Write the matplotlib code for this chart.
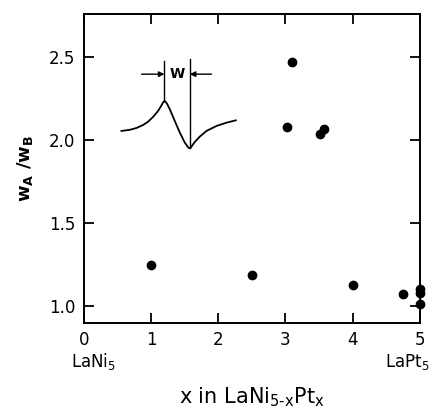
import matplotlib
matplotlib.use("Agg")
import matplotlib.pyplot as plt

plt.rcParams['font.family'] = ['DejaVu Sans']

# measured points
x_pts = [1.0, 2.5, 4.0, 4.75, 5.0, 5.0, 5.0, 3.1, 3.02, 3.52, 3.57]
y_pts = [1.25, 1.19, 1.13, 1.077, 1.107, 1.083, 1.012, 2.474, 2.078, 2.035, 2.065]

# inset sketch of the line shape (data coords)
curve_x = [0.56, 0.685, 0.784, 0.883, 0.957, 1.032, 1.106, 1.156, 1.18, 1.20, 1.22, 1.245, 1.28,
           1.354, 1.429, 1.503, 1.548, 1.568, 1.585, 1.602, 1.652, 1.726, 1.825, 1.974, 2.123, 2.262]
curve_y = [2.056, 2.063, 2.074, 2.092, 2.112, 2.141, 2.177, 2.210, 2.228, 2.236, 2.231, 2.215, 2.187,
           2.116, 2.046, 1.986, 1.960, 1.952, 1.953, 1.962, 1.990, 2.022, 2.056, 2.086, 2.106, 2.120]

fig = plt.figure(figsize=(4.41, 4.17), dpi=100)
ax = fig.add_axes([0.190, 0.2254, 0.762, 0.741])

ax.plot(x_pts, y_pts, 'o', color='black', markersize=6, clip_on=False)
ax.plot(curve_x, curve_y, '-', color='black', linewidth=1.3)

# width marker
ax.plot([1.20, 1.20], [2.236, 2.478], color='black', linewidth=1.0)
ax.plot([1.577, 1.577], [1.952, 2.488], color='black', linewidth=1.0)
ax.annotate('', xy=(1.20, 2.398), xytext=(0.86, 2.398),
            arrowprops=dict(arrowstyle='-|>', color='black', lw=1.0, mutation_scale=8,
                            shrinkA=0, shrinkB=0))
ax.annotate('', xy=(1.577, 2.398), xytext=(1.90, 2.398),
            arrowprops=dict(arrowstyle='-|>', color='black', lw=1.0, mutation_scale=8,
                            shrinkA=0, shrinkB=0))
ax.text(1.39, 2.398, 'W', ha='center', va='center', fontsize=10, fontweight='bold')

ax.set_xlim(0, 5)
ax.set_ylim(0.9, 2.76)
ax.set_xticks([0, 1, 2, 3, 4, 5])
ax.set_yticks([1.0, 1.5, 2.0, 2.5])
ax.set_yticklabels(['1.0', '1.5', '2.0', '2.5'])
ax.tick_params(direction='in', length=7, width=1.3, top=True, right=True,
               labelsize=12, pad=6)
for s in ax.spines.values():
    s.set_linewidth(1.4)

ax.text(0.028, -0.125, r'LaNi$_5$', transform=ax.transAxes, ha='center', va='center',
        fontsize=12)
ax.text(0.962, -0.125, r'LaPt$_5$', transform=ax.transAxes, ha='center', va='center',
        fontsize=12)
ax.set_xlabel(r'x in LaNi$_{\mathrm{5\text{-}x}}$Pt$_\mathrm{x}$', fontsize=15, labelpad=26)
ax.set_ylabel(r'$\mathbf{w_A}$ /$\mathbf{w_B}$', fontsize=13, fontweight='bold', labelpad=10)

fig.savefig('out.png', dpi=100)
